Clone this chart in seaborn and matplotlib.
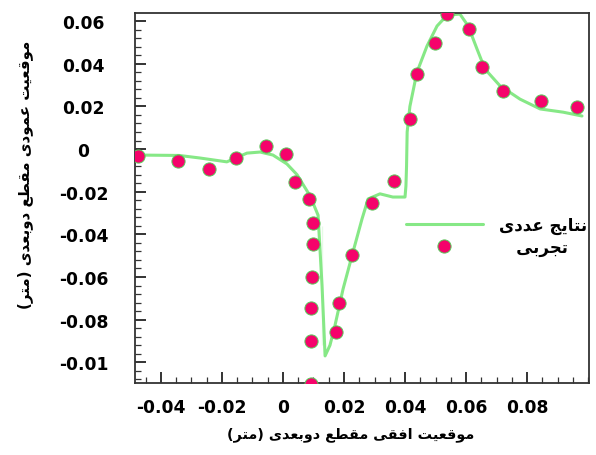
import numpy as np
import pandas as pd
import matplotlib
matplotlib.use("Agg")
import matplotlib.pyplot as plt
from matplotlib.ticker import MultipleLocator
from matplotlib.lines import Line2D
import seaborn as sns

# ---------------- data ----------------
line_x = [-0.0485, -0.034, -0.0272, -0.0184, -0.0118, -0.0075, -0.0033, 0.0013, 0.0046,
          0.0089, 0.0115, 0.0128, 0.0128, 0.0138, 0.0154, 0.017, 0.0197, 0.023, 0.0259,
          0.0279, 0.0318, 0.036, 0.0400, 0.0403, 0.0405, 0.0407, 0.0416, 0.0439, 0.0472,
          0.0505, 0.0538, 0.058, 0.0607, 0.0636, 0.0662, 0.0711, 0.0777, 0.0843, 0.0918, 0.098]
line_y = [-0.0028, -0.003, -0.0042, -0.006, -0.0019, -0.0014, -0.0028, -0.007, -0.012,
          -0.022, -0.031, -0.036, -0.092, -0.097, -0.092, -0.083, -0.0656, -0.048, -0.0328,
          -0.0234, -0.021, -0.0225, -0.0225, -0.0173, -0.008, 0.008, 0.020, 0.036, 0.0483,
          0.0577, 0.0628, 0.0633, 0.0577, 0.0469, 0.0375, 0.0297, 0.0234, 0.0188, 0.0173, 0.0155]

exp_x = [-0.0475, -0.0344, -0.0243, -0.0154, -0.0056, 0.001, 0.0039, 0.0085, 0.0098,
         0.0098, 0.0095, 0.0092, 0.0092, 0.0092, 0.0174, 0.0184, 0.0226, 0.0292, 0.0364,
         0.0416, 0.0439, 0.0498, 0.0537, 0.061, 0.0652, 0.0721, 0.0846, 0.0964]
exp_y = [-0.0033, -0.0056, -0.0094, -0.0042, 0.0014, -0.0023, -0.0155, -0.0234, -0.0347,
         -0.0445, -0.060, -0.0745, -0.090, -0.110, -0.0858, -0.0722, -0.0497, -0.0253, -0.015,
         0.0141, 0.0352, 0.0497, 0.0633, 0.0562, 0.0386, 0.0272, 0.0225, 0.0197]

xticks = [-0.04, -0.02, 0, 0.02, 0.04, 0.06, 0.08]
xtick_labels = ["-0.04", "-0.02", "0", "0.02", "0.04", "0.06", "0.08"]
yticks = [0.06, 0.04, 0.02, 0, -0.02, -0.04, -0.06, -0.08, -0.1]
ytick_labels = ["0.06", "0.04", "0.02", "0", "-0.02", "-0.04", "-0.06", "-0.08", "-0.01"]

xlabel_text = "موقعیت افقی مقطع دوبعدی (متر)"
ylabel_text = "موقعیت عمودی مقطع دوبعدی (متر)"
label_numeric = "نتایج عددی"
label_exp = "تجربی"

# ---------------- simple Persian shaping ----------------
FORMS = {  # isolated, final, initial, medial
    '\u0627': ('\uFE8D', '\uFE8E', None, None),
    '\u0628': ('\uFE8F', '\uFE90', '\uFE91', '\uFE92'),
    '\u062A': ('\uFE95', '\uFE96', '\uFE97', '\uFE98'),
    '\u062C': ('\uFE9D', '\uFE9E', '\uFE9F', '\uFEA0'),
    '\u062F': ('\uFEA9', '\uFEAA', None, None),
    '\u0631': ('\uFEAD', '\uFEAE', None, None),
    '\u0637': ('\uFEC1', '\uFEC2', '\uFEC3', '\uFEC4'),
    '\u0639': ('\uFEC9', '\uFECA', '\uFECB', '\uFECC'),
    '\u0641': ('\uFED1', '\uFED2', '\uFED3', '\uFED4'),
    '\u0642': ('\uFED5', '\uFED6', '\uFED7', '\uFED8'),
    '\u0645': ('\uFEE1', '\uFEE2', '\uFEE3', '\uFEE4'),
    '\u0646': ('\uFEE5', '\uFEE6', '\uFEE7', '\uFEE8'),
    '\u0648': ('\uFEED', '\uFEEE', None, None),
    '\u06CC': ('\uFEEF', '\uFEF0', '\uFEF3', '\uFEF4'),
}


def shape(s):
    out = []
    n = len(s)
    for i, c in enumerate(s):
        if c not in FORMS:
            out.append(c)
            continue
        f = FORMS[c]
        prev_c = s[i - 1] if i > 0 else None
        next_c = s[i + 1] if i < n - 1 else None
        join_prev = prev_c in FORMS and FORMS[prev_c][2] is not None
        join_next = f[2] is not None and next_c in FORMS
        if join_prev and join_next:
            out.append(f[3])
        elif join_prev:
            out.append(f[1])
        elif join_next:
            out.append(f[2])
        else:
            out.append(f[0])
    vis = ''.join(reversed(out))
    vis = vis.translate(str.maketrans({'(': ')', ')': '('}))
    return vis


# ---------------- plot ----------------
sns.set_style("white")
plt.rcParams['font.family'] = ['DejaVu Sans']
plt.rcParams['text.color'] = 'black'
plt.rcParams['xtick.color'] = 'black'
plt.rcParams['ytick.color'] = 'black'
plt.rcParams['axes.labelcolor'] = 'black'

fig = plt.figure(figsize=(5.96, 4.56), dpi=100)
ax = fig.add_axes([135 / 596, 1 - 384 / 456, 454 / 596, 370 / 456])

line_df = pd.DataFrame({"x": line_x, "y": line_y})
exp_df = pd.DataFrame({"x": exp_x, "y": exp_y})

green = "#86e886"
pink = "#f5036b"
edge = "#58c858"
sns.lineplot(data=line_df, x="x", y="y", sort=False, color=green, linewidth=2.2,
             ax=ax, zorder=2)
sns.scatterplot(data=exp_df, x="x", y="y", color=pink, s=90, edgecolor=edge,
                linewidth=0.7, ax=ax, zorder=3)

ax.set_xlim(-0.0485, 0.1003)
ax.set_ylim(-0.1097, 0.0638)

ax.set_xticks(xticks)
ax.set_xticklabels(xtick_labels, fontsize=12.3, fontweight='bold', color='black')
ax.set_yticks(yticks)
ax.set_yticklabels(ytick_labels, fontsize=12.3, fontweight='bold', color='black')
for t in ax.get_yticklabels():
    t.set_horizontalalignment('center')
ax.xaxis.set_minor_locator(MultipleLocator(0.005))
ax.yaxis.set_minor_locator(MultipleLocator(0.004))
ax.tick_params(axis='both', which='major', direction='in', length=8, width=1.2,
               color='#111111', bottom=True, left=True, top=False, right=False)
ax.tick_params(axis='both', which='minor', direction='in', length=4.5, width=0.9,
               color='#333333', bottom=True, left=True, top=False, right=False)
ax.tick_params(axis='y', which='major', pad=37)
ax.tick_params(axis='x', which='major', pad=11)

for sp in ax.spines.values():
    sp.set_color('#333333')
    sp.set_linewidth(1.3)
    sp.set_visible(True)

ax.set_xlabel(shape(xlabel_text), fontsize=10.4, fontweight='bold', color='black')
ax.set_ylabel(shape(ylabel_text), fontsize=10.8, fontweight='bold', color='black')
ax.xaxis.set_label_coords(0.476, -0.118)
ax.yaxis.set_label_coords(-0.225, 0.565)

handles = [Line2D([], [], color=green, linewidth=2.2),
           Line2D([], [], color=pink, marker='o', linestyle='none', markersize=9.5,
                  markeredgecolor=edge, markeredgewidth=0.7)]
leg = ax.legend(handles, [shape(label_numeric), "   " + shape(label_exp)],
                loc='center left', bbox_to_anchor=(0.597, 0.397), frameon=False,
                borderpad=0, borderaxespad=0, handlelength=4.6, handletextpad=1.0,
                labelspacing=0.25, prop={'size': 12, 'weight': 'bold'})
for t in leg.get_texts():
    t.set_color('black')

fig.savefig("out.png", dpi=100)
